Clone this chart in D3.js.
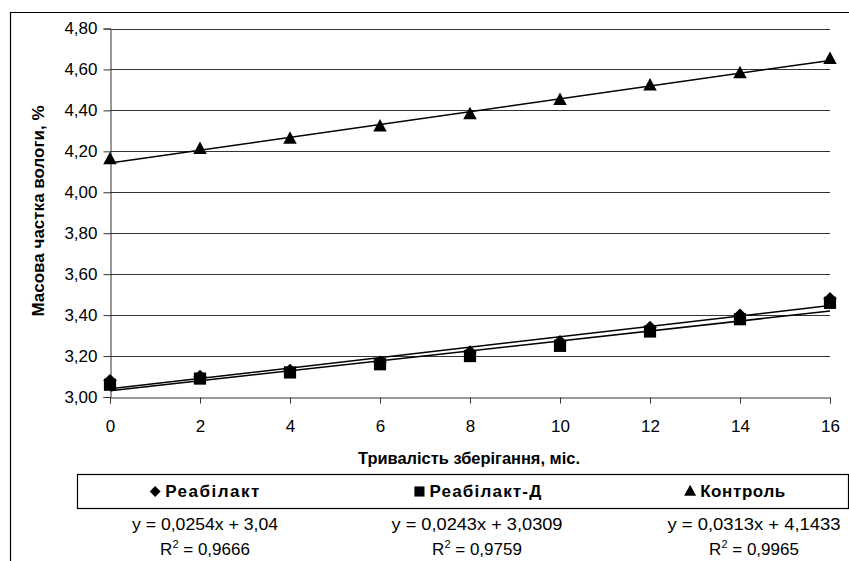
<!DOCTYPE html>
<html><head><meta charset="utf-8">
<script src="https://cdn.jsdelivr.net/npm/d3@7"></script>
<style>body{margin:0;background:#fff}svg{display:block}</style>
</head><body><svg id="c" width="849" height="561"></svg>
<script>
const months = [0, 2, 4, 6, 8, 10, 12, 14, 16];
const seriesNames = ["Реабілакт", "Реабілакт-Д", "Контроль"];
const reabilakt = [3.08, 3.10, 3.13, 3.17, 3.22, 3.27, 3.34, 3.40, 3.48];
const reabilaktD = [3.06, 3.09, 3.12, 3.16, 3.20, 3.25, 3.32, 3.38, 3.46];
const kontrol = [4.16, 4.21, 4.26, 4.32, 4.38, 4.45, 4.52, 4.58, 4.65];
const slopes = [0.0254, 0.0243, 0.0313];
const intercepts = [3.04, 3.0309, 4.1433];
const equations = ["y = 0,0254x + 3,04", "y = 0,0243x + 3,0309", "y = 0,0313x + 4,1433"];
const r2Values = ["0,9666", "0,9759", "0,9965"];
const yTicks = [3.0, 3.2, 3.4, 3.6, 3.8, 4.0, 4.2, 4.4, 4.6, 4.8];
const xTicks = [0, 2, 4, 6, 8, 10, 12, 14, 16];

const svg = d3.select("#c");
const fmt = v => v.toFixed(2).replace(".", ",");
const x = d3.scaleLinear().domain([0, 16]).range([110, 830]);
const y = d3.scaleLinear().domain([3.0, 4.8]).range([397, 28.5]);
const font = "'Liberation Sans', Arial, sans-serif";

// outer border (left/top visible)
svg.append("path").attr("d", "M10.5,561 V12.5 H849").attr("fill", "none").attr("stroke", "#000").attr("stroke-width", 1.2);

// gridlines
svg.append("g").selectAll("line").data(yTicks.slice(1)).join("line")
  .attr("x1", 110).attr("x2", 830)
  .attr("y1", d => Math.round(y(d)) + 0.5).attr("y2", d => Math.round(y(d)) + 0.5)
  .attr("stroke", "#333").attr("stroke-width", 1);

// y axis
const ya = svg.append("g").attr("transform", "translate(110.5,0)")
  .call(d3.axisLeft(y).tickValues(yTicks).tickFormat(fmt).tickSize(7).tickPadding(6));
ya.select(".domain").attr("stroke", "#333");
ya.selectAll(".tick line").attr("stroke", "#333");
ya.selectAll("text").attr("font-family", font).attr("font-size", 17).attr("fill", "#000");

// x axis
const xa = svg.append("g").attr("transform", "translate(0,397.5)")
  .call(d3.axisBottom(x).tickValues(xTicks).tickSize(6).tickPadding(16));
xa.select(".domain").attr("stroke", "#333");
xa.selectAll(".tick line").attr("stroke", "#333");
xa.selectAll("text").attr("font-family", font).attr("font-size", 17).attr("fill", "#000");

// axis titles
svg.append("text").attr("transform", "translate(44,211) rotate(-90)")
  .attr("text-anchor", "middle").attr("font-family", font).attr("font-weight", "bold")
  .attr("font-size", 17).text("Масова частка вологи, %");
svg.append("text").attr("x", 469).attr("y", 464)
  .attr("text-anchor", "middle").attr("font-family", font).attr("font-weight", "bold")
  .attr("font-size", 16).attr("textLength", 222).attr("lengthAdjust", "spacingAndGlyphs")
  .text("Тривалість зберігання, міс.");

// symbols
const tri = (w, h) => `M0,${-h * 0.62}L${w / 2},${h * 0.38}L${-w / 2},${h * 0.38}Z`;
const symPaths = [
  d3.symbol().type(d3.symbolDiamond2).size(115)(),
  d3.symbol().type(d3.symbolSquare2).size(190)(),
  tri(13.5, 12.5)
];
const legPaths = [
  d3.symbol().type(d3.symbolDiamond2).size(75)(),
  d3.symbol().type(d3.symbolSquare2).size(130)(),
  tri(12, 11)
];

// trendlines
slopes.forEach((s, i) => {
  svg.append("line")
    .attr("x1", x(0)).attr("y1", y(intercepts[i]))
    .attr("x2", x(16)).attr("y2", y(intercepts[i] + s * 16))
    .attr("stroke", "#000").attr("stroke-width", 1.5);
});

// markers
const allSeries = [reabilakt, reabilaktD, kontrol];
allSeries.forEach((vals, i) => {
  svg.append("g").selectAll("path").data(vals).join("path")
    .attr("transform", (d, j) => `translate(${x(months[j])},${y(d)})`)
    .attr("d", symPaths[i])
    .attr("fill", "#000");
});

// legend box
svg.append("rect").attr("x", 77.5).attr("y", 474.5).attr("width", 771).attr("height", 34)
  .attr("fill", "none").attr("stroke", "#000").attr("stroke-width", 1.2);
const legCx = [207, 480, 737];
const eqCx = [205, 477, 754];
const legSpacing = [1.5, 1.2, 0.6];
const eqLen = [146, 171, 173];
seriesNames.forEach((n, i) => {
  const g = svg.append("g");
  const tx = legCx[i] + 6;
  g.append("text").attr("x", tx).attr("y", 497)
    .attr("text-anchor", "middle").attr("font-family", font).attr("font-weight", "bold")
    .attr("font-size", 17).attr("letter-spacing", legSpacing[i])
    .text(n);
  const w = g.select("text").node().getComputedTextLength();
  g.append("path").attr("transform", `translate(${tx - w / 2 - 10},${491.5})`)
    .attr("d", legPaths[i]).attr("fill", "#000");
  svg.append("text").attr("x", eqCx[i]).attr("y", 530).attr("text-anchor", "middle")
    .attr("font-family", font).attr("font-size", 17)
    .attr("textLength", eqLen[i]).attr("lengthAdjust", "spacingAndGlyphs")
    .text(equations[i]);
  const r = svg.append("text").attr("x", eqCx[i]).attr("y", 555).attr("text-anchor", "middle")
    .attr("font-family", font).attr("font-size", 17);
  r.append("tspan").text("R");
  r.append("tspan").attr("font-size", 11).attr("dy", -7).text("2");
  r.append("tspan").attr("dy", 7).text(" = " + r2Values[i]);
});
</script>
</body></html>
